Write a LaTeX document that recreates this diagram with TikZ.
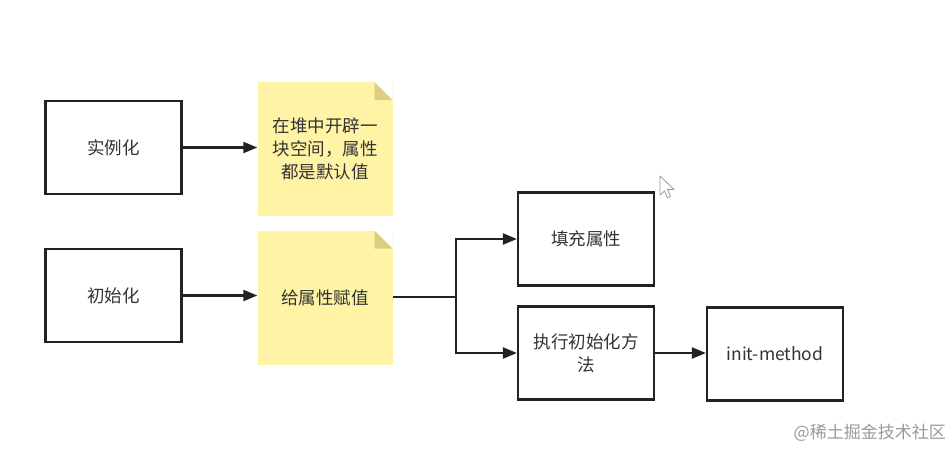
\documentclass[tikz,border=0pt]{standalone}
\usepackage{fontspec}
\setmainfont{Noto Sans CJK SC}
\usetikzlibrary{arrows.meta}
\definecolor{linecol}{HTML}{222222}
\definecolor{txtcol}{HTML}{333333}
\definecolor{notecol}{HTML}{FFF3A6}
\definecolor{foldcol}{HTML}{DCCD82}
\definecolor{markcol}{HTML}{9A9A9A}
\tikzset{
  procbox/.style={draw=linecol, line width=2.2pt, minimum width=136pt, minimum height=93pt,
    text=txtcol, font=\fontsize{17.5}{23}\selectfont, align=center, inner sep=0pt},
  notebox/.style={fill=notecol, minimum width=135pt, minimum height=134pt,
    text=txtcol, font=\fontsize{17.5}{23}\selectfont, align=center, inner sep=0pt,
    path picture={
      \fill[white] ([xshift=-18pt]path picture bounding box.north east) -- (path picture bounding box.north east) -- ([yshift=-18pt]path picture bounding box.north east) -- cycle;
      \fill[foldcol] ([xshift=-18pt]path picture bounding box.north east) -- ([xshift=-18pt,yshift=-18pt]path picture bounding box.north east) -- ([yshift=-18pt]path picture bounding box.north east) -- cycle;
    }},
  conn/.style={draw=linecol, line width=2.2pt, -{Triangle[length=14pt,width=11pt]}},
  plainconn/.style={draw=linecol, line width=2.2pt}
}
\begin{document}
\begin{tikzpicture}[x=1pt,y=-1pt]
\useasboundingbox[fill=white] (0,0) rectangle (952,451);
\node[procbox] (A) at (113.5,147.5) {实例化};
\node[procbox] (B) at (113.5,295.5) {初始化};
\node[notebox] (N1) at (325,149) {在堆中开辟一\\块空间，属性\\都是默认值};
\node[notebox] (N2) at (325,297.5) {给属性赋值};
\node[procbox] (C) at (586,239) {填充属性};
\node[procbox] (D) at (586,353) {执行初始化方\\法};
\node[procbox] (E) at (775,354) {init-method};
\coordinate (J) at (456,297);
\draw[conn] (A.east) -- (A.east -| N1.west);
\draw[conn] (B.east) -- (B.east -| N2.west);
\draw[plainconn] (N2.east |- J) -- (J);
\draw[conn] (J) |- (C.west);
\draw[conn] (J) |- (D.west);
\draw[conn] (D.east) -- (D.east -| E.west);
% mouse cursor
\draw[fill=white, draw=markcol, line width=0.8pt, line join=round]
  (660,176) -- (660,195) -- (664.5,191) -- (667.5,198) -- (670.5,196.5) -- (667.5,189.5) -- (674,189.5) -- cycle;
\node[text=markcol, font=\fontsize{17}{20}\selectfont, anchor=east, inner sep=0pt] (W) at (946,433) {@稀土掘金技术社区};
\end{tikzpicture}
\end{document}
